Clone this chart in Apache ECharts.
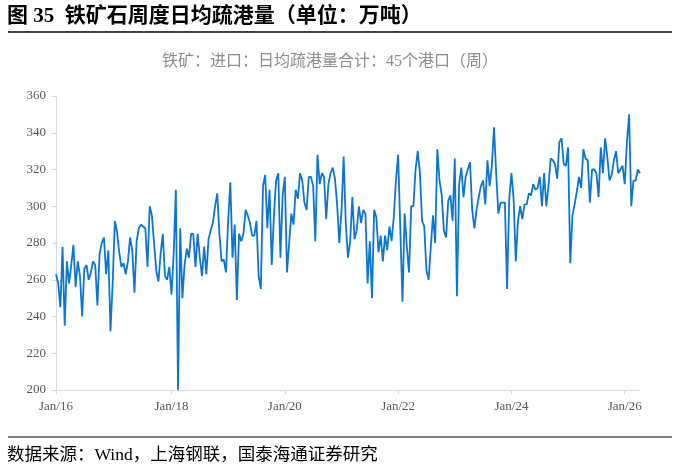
<!DOCTYPE html>
<html>
<head>
<meta charset="utf-8">
<script src="https://cdn.jsdelivr.net/npm/echarts@6/dist/echarts.min.js"></script>
<style>
html, body { margin: 0; padding: 0; background: #fff; }
#canvas { width: 679px; height: 469px; }
</style>
</head>
<body>
<div id="canvas"></div>
<script>
// 铁矿：进口：日均疏港量合计：45个港口（周），单位：万吨
// 读图取值，每两周一个点，从 2016-01-01 开始
var s1617 = [263,258,245,278,235,270,258,268,279,256,270,262,240,266,268,260,264,270,268,246,
             274,280,283,263,276,232,258,292,286,275,267,269,263,270,283,276,253,281,288,290,
             289,288,267,300,295,280,265,259,274,285,262,260,267];
var s1819 = [252,274,309,200,288,250,268,277,272,285,285,267,285,272,262,278,263,282,287,291,
             300,307,285,270,271,264,292,313,272,290,249,285,281,285,298,295,291,284,284,292,
             262,255,311,317,288,309,268,295,314,318,272,306];
var s2021 = [316,264,280,296,290,309,304,318,314,302,298,316,316,311,281,328,312,318,316,293,
             312,318,321,315,301,280,297,327,290,272,281,305,282,287,300,291,298,296,258,281,
             250,298,294,275,284,270,284,276,289,281,294,314];
var s2223 = [328,288,248,296,278,264,300,300,320,330,318,292,289,265,260,278,295,280,331,314,
             306,287,283,303,306,292,326,251,312,321,305,316,320,324,298,288,298,305,311,314,
             301,325,311,322,343,318,296,302,302,302,255,304];
var s2425 = [318,304,270,292,300,293,301,301,307,306,312,309,310,316,300,318,300,311,326,325,
             323,315,335,337,323,322,332,269,295,301,308,316,310,331,326,325,302,320,320,318,
             305,332,318,337,327,314,317,325,330,318,320,322];
var s26 = [312,335,350,300,314,314,320,318];

var startDate = Date.UTC(2016, 0, 1);
var stepDays = 14;
var tickYears = [2016, 2018, 2020, 2022, 2024, 2026];
var yTicks = [200, 220, 240, 260, 280, 300, 320, 340, 360];

var values = [].concat(s1617, s1819, s2021, s2223, s2425, s26);
var dates = values.map(function (v, i) {
    return new Date(startDate + i * stepDays * 86400000).toISOString().slice(0, 10);
});

function isTick(idx) {
    var d = dates[idx];
    var y = +d.slice(0, 4), m = +d.slice(5, 7), day = +d.slice(8, 10);
    return m === 1 && day <= 14 && tickYears.indexOf(y) >= 0;
}

var serif = "'Times New Roman', 'Liberation Serif', 'Noto Sans CJK SC'";

var dom = document.getElementById("canvas");
var myChart = echarts.init(dom);
var option = {
    animation: false,
    grid: { left: 56, right: 39, top: 96, bottom: 79 },
    graphic: [
        { type: 'text', left: 7, top: 6,
          style: { text: '图 35  铁矿石周度日均疏港量（单位：万吨）', fill: '#000',
                   font: 'bold 21px ' + serif } },
        { type: 'line', shape: { x1: 8, y1: 32, x2: 672, y2: 32 },
          style: { stroke: '#000', lineWidth: 1.5 } },
        { type: 'text', x: 330, y: 62,
          style: { text: '铁矿：进口：日均疏港量合计：45个港口（周）', fill: '#8c8c8c',
                   font: '16px ' + serif, textAlign: 'center', textVerticalAlign: 'middle' } },
        { type: 'line', shape: { x1: 8, y1: 437, x2: 672, y2: 437 },
          style: { stroke: '#555', lineWidth: 1.5 } },
        { type: 'text', x: 7, y: 455,
          style: { text: '数据来源：Wind，上海钢联，国泰海通证券研究', fill: '#000',
                   font: '17.5px ' + serif, textVerticalAlign: 'middle' } }
    ],
    xAxis: {
        type: 'category',
        data: dates,
        boundaryGap: false,
        axisLine: { lineStyle: { color: '#d9d9d9', width: 1 } },
        axisTick: { show: true, interval: isTick, length: 4, lineStyle: { color: '#d9d9d9' } },
        axisLabel: {
            interval: isTick,
            color: '#595959',
            fontFamily: serif,
            fontSize: 13,
            margin: 10,
            formatter: function (val) { return 'Jan/' + val.slice(2, 4); }
        },
        splitLine: { show: false }
    },
    yAxis: {
        type: 'value',
        min: yTicks[0],
        max: yTicks[yTicks.length - 1],
        interval: 20,
        axisLine: { show: true, lineStyle: { color: '#d9d9d9', width: 1 } },
        axisTick: { show: true, length: 4, lineStyle: { color: '#d9d9d9' } },
        axisLabel: { color: '#595959', fontFamily: serif, fontSize: 13, margin: 10 },
        splitLine: { show: false }
    },
    series: [
        {
            name: '日均疏港量',
            type: 'line',
            data: values,
            showSymbol: false,
            symbol: 'none',
            lineStyle: { color: '#0b76d4', width: 1.8 },
            itemStyle: { color: '#0b76d4' }
        }
    ]
};
myChart.setOption(option, true);
</script>
</body>
</html>
